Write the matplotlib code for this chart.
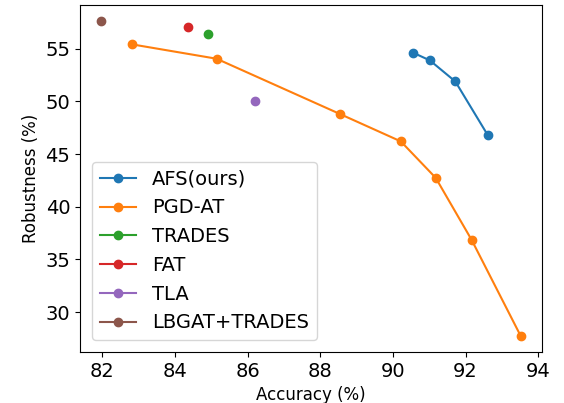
import matplotlib
matplotlib.use('Agg')
import matplotlib.pyplot as plt

# accuracy / robustness (%)
afs_acc = [90.56, 91.02, 91.72, 92.61]
afs_rob = [54.62, 53.89, 51.89, 46.81]

pgd_acc = [82.83, 85.15, 88.54, 90.22, 91.18, 92.17, 93.52]
pgd_rob = [55.41, 54.05, 48.81, 46.20, 42.74, 36.84, 27.72]

trades_acc = [84.92]
trades_rob = [56.39]

fat_acc = [84.37]
fat_rob = [57.03]

tla_acc = [86.21]
tla_rob = [50.08]

lbgat_acc = [81.97]
lbgat_rob = [57.67]

plt.rcParams['font.size'] = 14

fig = plt.figure(figsize=(5.64, 4.03), dpi=100)
ax = fig.add_axes([0.142, 0.127, 0.8185, 0.861])

ax.plot(afs_acc, afs_rob, 'o-', label='AFS(ours)')
ax.plot(pgd_acc, pgd_rob, 'o-', label='PGD-AT')
ax.plot(trades_acc, trades_rob, 'o-', label='TRADES')
ax.plot(fat_acc, fat_rob, 'o-', label='FAT')
ax.plot(tla_acc, tla_rob, 'o-', label='TLA')
ax.plot(lbgat_acc, lbgat_rob, 'o-', label='LBGAT+TRADES')

ax.set_xlabel('Accuracy (%)', fontsize=12)
ax.set_ylabel('Robustness (%)', fontsize=12)
ax.set_xticks([82, 84, 86, 88, 90, 92, 94])
ax.set_yticks([30, 35, 40, 45, 50, 55])
ax.legend(loc='lower left', labelspacing=0.5, borderaxespad=0.6, handlelength=1.9)

fig.savefig('out.png', dpi=100)
